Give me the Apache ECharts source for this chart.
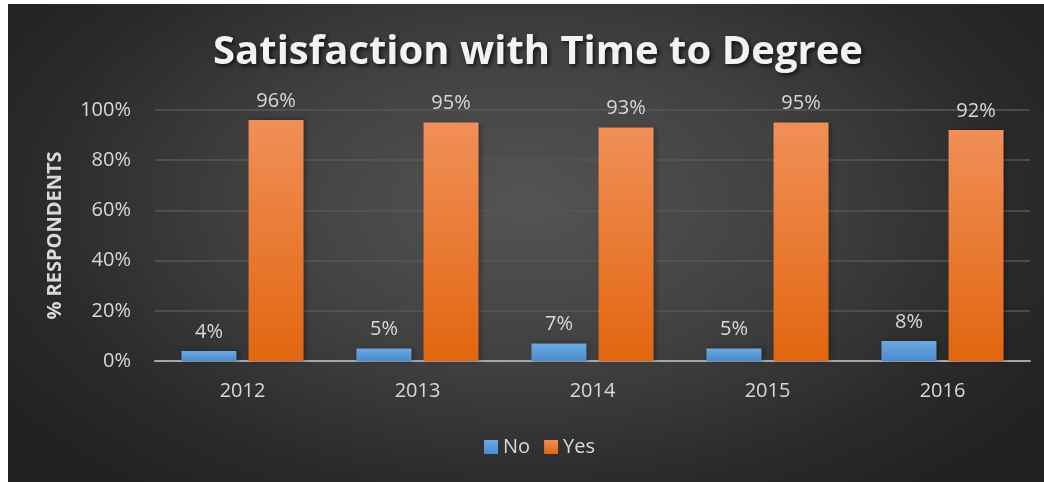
<!DOCTYPE html>
<html>
<head>
<meta charset="utf-8">
<script src="https://cdn.jsdelivr.net/npm/echarts@6/dist/echarts.min.js"></script>
<style>
html,body{margin:0;padding:0;background:#fff;}
#bg{position:absolute;left:8px;top:4px;width:1036px;height:478px;
background:radial-gradient(ellipse 60% 75% at 50% 42%, #545454 0%, #404040 45%, #2a2a2a 80%, #222 100%);}
#chart{position:absolute;left:0;top:0;width:1044px;height:482px;}
</style>
</head>
<body>
<div id="bg"></div>
<div id="chart"></div>
<script>
const categories = ['2012', '2013', '2014', '2015', '2016'];
const noValues = [4, 5, 7, 5, 8];
const yesValues = [96, 95, 93, 95, 92];
const yTicks = [0, 20, 40, 60, 80, 100];

const chart = echarts.init(document.getElementById('chart'), null, {renderer: 'canvas'});
const txt = '#d9d9d9';
const font = 'Open Sans';
function grad(top, bottom) {
  return new echarts.graphic.LinearGradient(0, 0, 0, 1, [
    {offset: 0, color: top}, {offset: 1, color: bottom}
  ]);
}
const labelCfg = {
  show: true, position: 'top', distance: 9,
  color: txt, fontFamily: font, fontSize: 20,
  formatter: p => p.value + '%'
};
chart.setOption({
  backgroundColor: 'transparent',
  animation: false,
  title: {
    text: 'Satisfaction with Time to Degree',
    left: 533, top: 28, textAlign: 'center',
    textStyle: {
      color: '#f2f2f2', fontFamily: font, fontWeight: 'bold', fontSize: 40,
      textShadowColor: 'rgba(0,0,0,0.7)', textShadowBlur: 4, textShadowOffsetX: 2, textShadowOffsetY: 2
    }
  },
  legend: {
    data: ['No', 'Yes'],
    left: 479, top: 432,
    itemWidth: 14, itemHeight: 14, itemGap: 14,
    icon: 'rect',
    textStyle: {color: txt, fontFamily: font, fontSize: 20}
  },
  grid: {left: 155, right: 14, top: 110, bottom: 121, containLabel: false},
  xAxis: {
    type: 'category', data: categories,
    axisLine: {lineStyle: {color: '#a6a6a6', width: 2}},
    axisTick: {show: false},
    axisLabel: {color: txt, fontFamily: font, fontSize: 20, margin: 20}
  },
  yAxis: {
    type: 'value', min: 0, max: 100, interval: 20,
    name: '% RESPONDENTS', nameLocation: 'middle', nameGap: 90,
    nameTextStyle: {color: txt, fontFamily: font, fontWeight: 'bold', fontSize: 20},
    axisLine: {show: false}, axisTick: {show: false},
    axisLabel: {color: txt, fontFamily: font, fontSize: 20, margin: 24,
      formatter: v => yTicks.includes(v) ? v + '%' : ''},
    splitLine: {lineStyle: {color: '#575757', width: 1.5}}
  },
  series: [
    {
      name: 'No', type: 'bar', data: noValues,
      barWidth: 55, barGap: '22%',
      itemStyle: {color: grad('#6da9e0', '#4a8bd0'), shadowColor: 'rgba(0,0,0,0.35)', shadowBlur: 5, shadowOffsetX: 2},
      label: labelCfg
    },
    {
      name: 'Yes', type: 'bar', data: yesValues,
      barWidth: 55,
      itemStyle: {color: grad('#f08f58', '#e2660f'), shadowColor: 'rgba(0,0,0,0.35)', shadowBlur: 5, shadowOffsetX: 2},
      label: labelCfg
    }
  ]
});
</script>
</body>
</html>
